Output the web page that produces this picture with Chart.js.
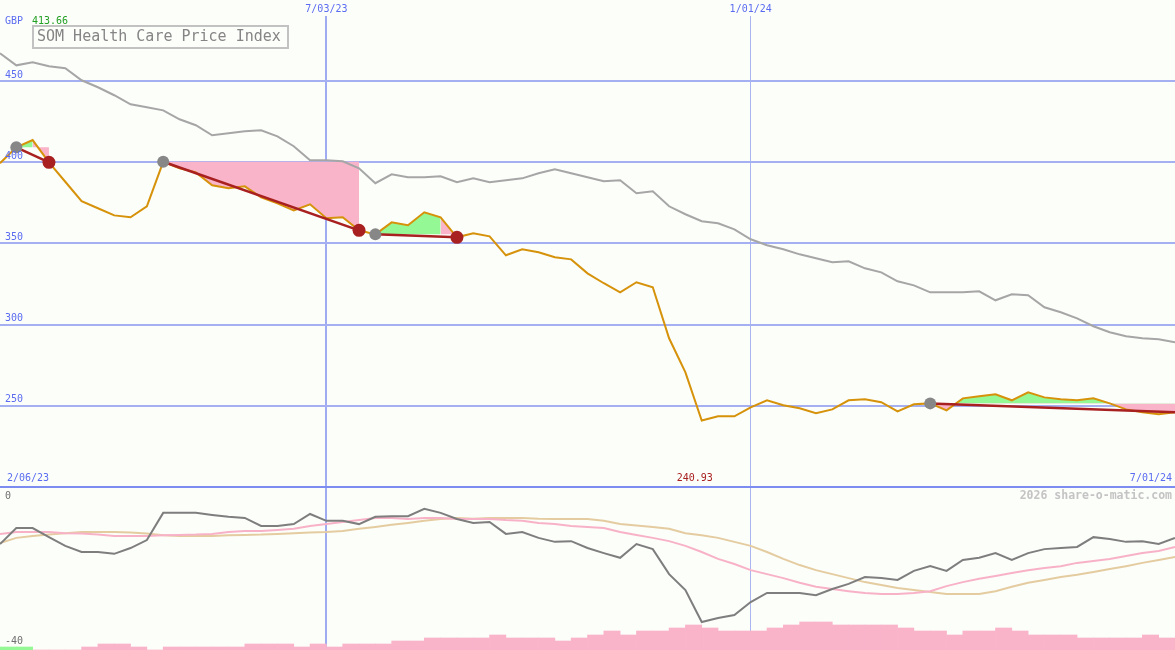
<!DOCTYPE html>
<html><head><meta charset="utf-8">
<script src="https://cdn.jsdelivr.net/npm/chart.js@4.4.1/dist/chart.umd.min.js"></script>
<style>
html,body{margin:0;padding:0;background:#fcfefa;}
#wrap{position:relative;width:1175px;height:650px;overflow:hidden;background:#fcfefa;}
canvas{position:absolute;left:0;}
#main{top:0;}
#lower{top:488px;}
</style></head><body>
<div id="wrap"><canvas id="main" width="1175" height="488"></canvas><canvas id="lower" width="1175" height="162"></canvas></div>
<script>
// ---------- DATA ----------
const titleText = 'SOM Health Care Price Index';
const currency = 'GBP';
const xTickIdx = [20, 46];
const xTickLabels = ['7/03/23', '1/01/24'];
const startLabel = '2/06/23';
const endLabel = '7/01/24';
const yTicks = [250, 300, 350, 400, 450];
const lowerTicks = [0, -40];
const watermark = '2026 share-o-matic.com';

const price = [399.4,409.2,413.66,400.0,388.0,376.0,371.7,367.3,366.1,372.9,
  400.3,396.3,393.8,385.8,384.0,385.2,378.4,374.7,370.4,374.1,
  365.5,366.1,358.1,355.6,363.0,361.2,369.2,366.1,353.8,356.3,
  354.4,342.7,346.4,344.6,341.5,340.2,331.6,325.5,319.9,326.1,
  323.0,291.6,270.6,240.93,243.5,243.5,249.1,253.4,250.3,248.5,
  245.4,247.8,253.4,254.0,252.2,246.6,250.9,251.5,247.2,254.6,
  255.9,257.1,253.4,258.3,255.2,254.0,253.4,254.6,251.5,247.8,
  246.0,244.8,246.0];

const sector = [467.1,459.7,461.6,459.1,457.9,450.5,446.2,441.3,435.7,433.9,
  432.0,426.5,422.8,416.6,417.9,419.1,419.7,416.0,409.9,401.2,
  401.2,400.6,396.3,387.1,392.6,390.8,390.8,391.4,387.7,390.1,
  387.7,388.9,390.1,393.2,395.7,393.2,390.8,388.3,388.9,380.9,
  382.1,372.9,368.0,363.7,362.4,358.7,352.6,348.9,346.4,343.3,
  340.9,338.4,339.0,334.7,332.2,326.7,324.2,319.9,319.9,319.9,
  320.5,315.0,318.7,318.1,310.7,307.6,303.9,299.0,295.3,292.8,
  291.6,291.0,289.1];

// trades: [buy index, end index, closed]
const trades = [[1,3,true],[10,22,true],[23,28,true],[57,72,false]];
// shaded areas: [from, to, trade, mode]
const shades = [[1,2,0,'up'],[2,3,0,'down'],[10,22,1,'down'],[23,27,2,'up'],[27,28,2,'down'],[57,72,3,'auto']];

const osc = [-11.6,-7.2,-7.2,-9.7,-12.1,-13.8,-13.8,-14.3,-12.7,-10.5,
  -3.0,-3.0,-3.0,-3.6,-4.1,-4.4,-6.6,-6.6,-6.1,-3.3,
  -5.2,-5.2,-6.1,-4.1,-3.9,-3.9,-1.9,-3.0,-4.7,-5.8,
  -5.5,-8.8,-8.3,-9.9,-11.0,-10.8,-12.7,-14.1,-15.4,-11.6,
  -13.0,-19.9,-24.3,-33.1,-32.0,-31.2,-27.6,-25.1,-25.1,-25.1,
  -25.7,-24.0,-22.6,-20.7,-21.0,-21.5,-19.0,-17.7,-19.0,-16.0,
  -15.4,-14.1,-16.0,-14.1,-13.0,-12.7,-12.4,-9.7,-10.2,-11.0,
  -10.8,-11.6,-9.9];

const oscFast = [-8.8,-8.3,-8.3,-8.3,-8.6,-8.7,-9.0,-9.4,-9.4,-9.4,
  -9.2,-9.1,-9.0,-8.8,-8.3,-8.0,-8.0,-7.7,-7.4,-6.6,
  -6.1,-5.5,-5.0,-4.4,-4.4,-4.7,-4.4,-4.4,-4.7,-4.7,
  -4.7,-5.0,-5.2,-5.8,-6.1,-6.6,-6.9,-7.2,-8.3,-9.1,
  -9.9,-10.8,-12.1,-13.8,-15.7,-17.1,-18.8,-19.9,-21.0,-22.3,
  -23.4,-24.0,-24.6,-25.1,-25.4,-25.4,-25.1,-24.6,-23.2,-22.1,
  -21.2,-20.4,-19.6,-18.8,-18.2,-17.7,-16.8,-16.3,-15.7,-14.9,
  -14.1,-13.5,-12.4];

const oscSlow = [-11.3,-9.9,-9.4,-9.0,-8.6,-8.3,-8.3,-8.3,-8.4,-8.7,
  -9.2,-9.4,-9.4,-9.4,-9.2,-9.1,-9.0,-8.8,-8.6,-8.4,
  -8.3,-8.0,-7.4,-6.9,-6.3,-5.8,-5.2,-4.7,-4.4,-4.6,
  -4.4,-4.4,-4.4,-4.6,-4.7,-4.7,-4.7,-5.2,-6.1,-6.5,
  -6.9,-7.4,-8.6,-9.2,-9.9,-11.0,-12.1,-13.8,-15.7,-17.4,
  -18.8,-19.9,-21.0,-22.1,-22.9,-23.7,-24.3,-24.8,-25.4,-25.4,
  -25.4,-24.6,-23.4,-22.3,-21.5,-20.7,-20.1,-19.3,-18.5,-17.7,
  -16.8,-16.0,-15.2];

const volume = [3,3,0,0,0,3,6,6,3,0,
  3,3,3,3,3,6,6,6,3,6,
  3,6,6,6,9,9,12,12,12,12,
  15,12,12,12,9,12,15,19,15,19,
  19,22,25,22,19,19,19,22,25,28,
  28,25,25,25,25,22,19,19,15,19,
  19,22,19,15,15,15,12,12,12,12,
  15,12];
const volumeUp = [0,1];

// ---------- STYLE ----------
const FONT = '"DejaVu Sans Mono", monospace';
const BLUE = '#5b6cf0';
const GRID = '#a4b0f2';
const AXIS = '#7c8cf0';
const PINK = '#f9b4ca';
const GREEN = '#94f894';
const RED = '#a82020';
const ORANGE = '#d6920a';

const pts = arr => arr.map((v, i) => ({x: i, y: v}));
const seg = (a, b) => price.slice(a, b + 1).map((v, k) => ({x: a + k, y: v}));
const maxP = Math.max(...price), minP = Math.min(...price), minIdx = price.indexOf(minP);

const vGrid = {
  drawTicks: false,
  color: c => c.index === 0 ? '#a0acf2' : '#aab6f2',
  lineWidth: c => c.index === 0 ? 2 : 1
};

// ---------- MAIN ----------
const ds = [];
ds.push({data: trades.map(t => ({x: t[0], y: price[t[0]]})), showLine: false,
  pointRadius: 6, pointBackgroundColor: '#878787', pointBorderWidth: 0});
ds.push({data: trades.filter(t => t[2]).map(t => ({x: t[1], y: price[t[1]]})), showLine: false,
  pointRadius: 6.5, pointBackgroundColor: RED, pointBorderWidth: 0});
trades.forEach(t => ds.push({data: [{x: t[0], y: price[t[0]]}, {x: t[1], y: price[t[1]]}],
  borderColor: RED, borderWidth: 2.5, pointRadius: 0}));
ds.push({data: pts(price), borderColor: ORANGE, borderWidth: 2, pointRadius: 0});
ds.push({data: pts(sector), borderColor: '#a6a6a6', borderWidth: 2, pointRadius: 0});
shades.forEach(s => {
  const base = price[trades[s[2]][0]];
  const above = s[3] === 'down' ? PINK : GREEN;
  const below = s[3] === 'up' ? GREEN : PINK;
  ds.push({data: seg(s[0], s[1]), borderColor: 'rgba(0,0,0,0)', borderWidth: 0, pointRadius: 0,
    fill: {target: {value: base}, above: above, below: below}});
});

const mainText = {
  id: 'mainText',
  afterDraw(c) {
    const ctx = c.ctx, y = c.scales.y, x = c.scales.x;
    ctx.save();
    ctx.font = '10px ' + FONT;
    ctx.textBaseline = 'middle';
    ctx.textAlign = 'left';
    ctx.fillStyle = BLUE;
    yTicks.forEach(v => ctx.fillText(String(v), 5, y.getPixelForValue(v) - 6));
    ctx.fillText(currency, 5, 21);
    ctx.fillStyle = '#22a022';
    ctx.fillText(maxP.toFixed(2), 32, 21);
    const by = y.getPixelForValue(200) - 9;
    ctx.fillStyle = BLUE;
    ctx.fillText(startLabel, 7, by);
    ctx.textAlign = 'right';
    ctx.fillText(endLabel, 1172, by);
    ctx.textAlign = 'center';
    ctx.fillStyle = RED;
    ctx.fillText(minP.toFixed(2), x.getPixelForValue(minIdx) - 7, by);
    ctx.strokeStyle = '#c2c2c2';
    ctx.lineWidth = 2;
    ctx.strokeRect(33, 26, 255, 22);
    ctx.font = '15px ' + FONT;
    ctx.fillStyle = '#858585';
    ctx.textAlign = 'left';
    ctx.fillText(titleText, 37, 37);
    ctx.restore();
  }
};

new Chart(document.getElementById('main'), {
  type: 'line',
  data: {datasets: ds},
  plugins: [mainText],
  options: {
    responsive: false, animation: false, devicePixelRatio: 1, events: [],
    layout: {padding: 0, autoPadding: false},
    elements: {line: {tension: 0}},
    plugins: {legend: {display: false}, tooltip: {enabled: false}},
    scales: {
      x: {type: 'linear', position: 'top', min: 0, max: 72, offset: false,
        afterBuildTicks: s => { s.ticks = xTickIdx.map(v => ({value: v})); },
        afterFit: s => { s.height = 16; s.paddingLeft = 0; s.paddingRight = 0; },
        ticks: {autoSkip: false, maxRotation: 0, padding: 1, color: BLUE,
          font: {family: FONT, size: 10},
          callback: v => xTickLabels[xTickIdx.indexOf(v)]},
        grid: vGrid, border: {display: false}},
      y: {type: 'linear', position: 'left', min: 199.38, max: 490.1,
        afterBuildTicks: s => { s.ticks = [200].concat(yTicks).map(v => ({value: v})); },
        afterFit: s => { s.width = 0; s.paddingTop = 0; s.paddingBottom = 0; },
        ticks: {display: false},
        grid: {drawTicks: false, lineWidth: 2, color: c => c.tick && c.tick.value === 200 ? AXIS : GRID},
        border: {display: false}}
    }
  }
});

// ---------- LOWER ----------
const lowerText = {
  id: 'lowerText',
  afterDraw(c) {
    const ctx = c.ctx, y = c.scales.y;
    ctx.save();
    ctx.font = '10px ' + FONT;
    ctx.textBaseline = 'middle';
    ctx.textAlign = 'left';
    ctx.fillStyle = '#707070';
    lowerTicks.forEach(v => ctx.fillText(String(v), 5, y.getPixelForValue(v) - 6));
    ctx.font = 'bold 11.5px ' + FONT;
    ctx.fillStyle = '#c4c4c4';
    ctx.textAlign = 'right';
    ctx.fillText(watermark, 1172, 8);
    ctx.restore();
  }
};

new Chart(document.getElementById('lower'), {
  type: 'line',
  data: {datasets: [
    {data: pts(osc), borderColor: '#7e7e7e', borderWidth: 2, pointRadius: 0},
    {data: pts(oscFast), borderColor: '#f8b2c8', borderWidth: 2, pointRadius: 0},
    {data: pts(oscSlow), borderColor: '#e4cca0', borderWidth: 2, pointRadius: 0},
    {type: 'bar', yAxisID: 'y2', data: volume.map((v, i) => ({x: i + 0.5, y: v})),
      backgroundColor: volume.map((v, i) => volumeUp.includes(i) ? GREEN : PINK),
      borderWidth: 0, barPercentage: 1, categoryPercentage: 1}
  ]},
  plugins: [lowerText],
  options: {
    responsive: false, animation: false, devicePixelRatio: 1, events: [],
    layout: {padding: 0, autoPadding: false},
    elements: {line: {tension: 0}},
    plugins: {legend: {display: false}, tooltip: {enabled: false}},
    scales: {
      x: {type: 'linear', position: 'bottom', min: 0, max: 72, offset: false,
        afterBuildTicks: s => { s.ticks = xTickIdx.map(v => ({value: v})); },
        afterFit: s => { s.height = 0; },
        ticks: {display: false},
        grid: Object.assign({offset: false}, vGrid), border: {display: false}},
      y: {type: 'linear', position: 'left', min: -40.83, max: 3.86, display: false},
      y2: {type: 'linear', position: 'right', min: 0, max: 162, display: false}
    }
  }
});
</script>
</body></html>
